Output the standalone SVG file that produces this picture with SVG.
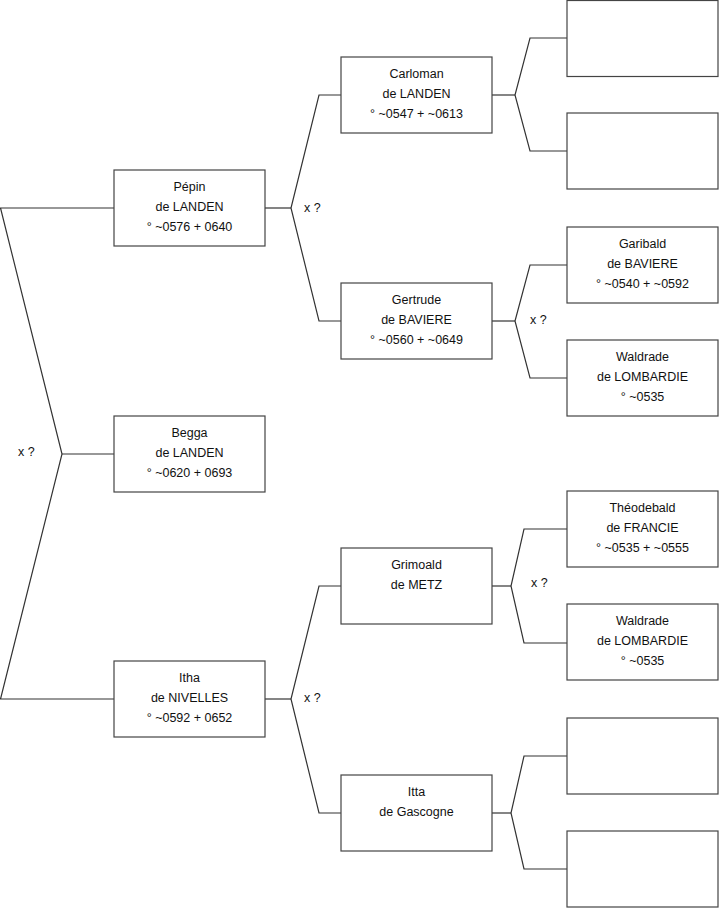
<svg xmlns="http://www.w3.org/2000/svg" width="719" height="908" viewBox="0 0 719 908">
<style>
.box{fill:#fff;stroke:#444;stroke-width:1.2}
.t{font-family:"Liberation Sans",Arial,sans-serif;font-size:12.5px;fill:#111;text-anchor:middle}
.x{font-family:"Liberation Sans",Arial,sans-serif;font-size:12.5px;fill:#111}
.c{fill:none;stroke:#333;stroke-width:1.2}
</style>
<rect width="719" height="908" fill="#fff"/>
<g id="connectors">
<polyline class="c" points="114,208 0.5,208 62,454 0.5,699 114,699"/>
<line class="c" x1="62" y1="454" x2="114" y2="454"/>
<polyline class="c" points="341,95 319,95 291,208 319,321 341,321"/>
<line class="c" x1="265" y1="208" x2="291" y2="208"/>
<polyline class="c" points="341,586 319,586 291,699 319,813 341,813"/>
<line class="c" x1="265" y1="699" x2="291" y2="699"/>
<polyline class="c" points="567,38 530,38 515,95 530,151 567,151"/>
<line class="c" x1="492" y1="95" x2="515" y2="95"/>
<polyline class="c" points="567,265 530,265 515,321 530,378 567,378"/>
<line class="c" x1="492" y1="321" x2="515" y2="321"/>
<polyline class="c" points="567,529 524,529 511,586 524,643 567,643"/>
<line class="c" x1="492" y1="586" x2="511" y2="586"/>
<polyline class="c" points="567,756 524,756 511,813 524,869 567,869"/>
<line class="c" x1="492" y1="813" x2="511" y2="813"/>
<text class="x" x="18" y="456">x ?</text>
<text class="x" x="304" y="212">x ?</text>
<text class="x" x="304" y="702">x ?</text>
<text class="x" x="530" y="324">x ?</text>
<text class="x" x="531" y="587">x ?</text>
</g>
<g id="pepin"><rect class="box" x="114" y="170" width="151" height="76"/>
<text class="t" x="189.5" y="191">Pépin</text><text class="t" x="189.5" y="211">de LANDEN</text><text class="t" x="189.5" y="231">° ~0576 + 0640</text></g>
<g id="begga"><rect class="box" x="114" y="416" width="151" height="76"/>
<text class="t" x="189.5" y="437">Begga</text><text class="t" x="189.5" y="457">de LANDEN</text><text class="t" x="189.5" y="477">° ~0620 + 0693</text></g>
<g id="itha"><rect class="box" x="114" y="661" width="151" height="76"/>
<text class="t" x="189.5" y="682">Itha</text><text class="t" x="189.5" y="702">de NIVELLES</text><text class="t" x="189.5" y="722">° ~0592 + 0652</text></g>
<g id="carloman"><rect class="box" x="341" y="57" width="151" height="76"/>
<text class="t" x="416.5" y="78">Carloman</text><text class="t" x="416.5" y="98">de LANDEN</text><text class="t" x="416.5" y="118">° ~0547 + ~0613</text></g>
<g id="gertrude"><rect class="box" x="341" y="283" width="151" height="76"/>
<text class="t" x="416.5" y="304">Gertrude</text><text class="t" x="416.5" y="324">de BAVIERE</text><text class="t" x="416.5" y="344">° ~0560 + ~0649</text></g>
<g id="grimoald"><rect class="box" x="341" y="548" width="151" height="76"/>
<text class="t" x="416.5" y="569">Grimoald</text><text class="t" x="416.5" y="589">de METZ</text></g>
<g id="itta"><rect class="box" x="341" y="775" width="151" height="76"/>
<text class="t" x="416.5" y="796">Itta</text><text class="t" x="416.5" y="816">de Gascogne</text></g>
<g id="empty1"><rect class="box" x="567" y="0.5" width="151" height="76"/></g>
<g id="empty2"><rect class="box" x="567" y="113" width="151" height="76"/></g>
<g id="garibald"><rect class="box" x="567" y="227" width="151" height="76"/>
<text class="t" x="642.5" y="248">Garibald</text><text class="t" x="642.5" y="268">de BAVIERE</text><text class="t" x="642.5" y="288">° ~0540 + ~0592</text></g>
<g id="waldrade1"><rect class="box" x="567" y="340" width="151" height="76"/>
<text class="t" x="642.5" y="361">Waldrade</text><text class="t" x="642.5" y="381">de LOMBARDIE</text><text class="t" x="642.5" y="401">° ~0535</text></g>
<g id="theodebald"><rect class="box" x="567" y="491" width="151" height="76"/>
<text class="t" x="642.5" y="512">Théodebald</text><text class="t" x="642.5" y="532">de FRANCIE</text><text class="t" x="642.5" y="552">° ~0535 + ~0555</text></g>
<g id="waldrade2"><rect class="box" x="567" y="604" width="151" height="76"/>
<text class="t" x="642.5" y="625">Waldrade</text><text class="t" x="642.5" y="645">de LOMBARDIE</text><text class="t" x="642.5" y="665">° ~0535</text></g>
<g id="empty3"><rect class="box" x="567" y="718" width="151" height="76"/></g>
<g id="empty4"><rect class="box" x="567" y="831" width="151" height="76"/></g>
</svg>
